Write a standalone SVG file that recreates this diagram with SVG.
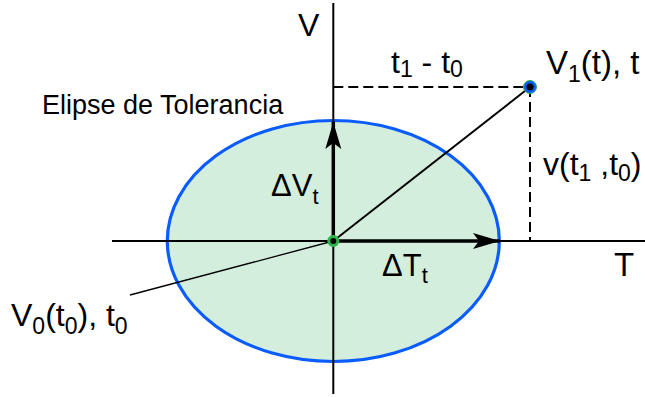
<svg xmlns="http://www.w3.org/2000/svg" width="645" height="397" viewBox="0 0 645 397">
<style>
text{font-family:"Liberation Sans",Arial,sans-serif;fill:#000;}
.lbl{font-size:32px;}
.ax{stroke:#000;stroke-width:2;fill:none;}
.thick{stroke:#000;stroke-width:3.5;fill:none;}
.dash{stroke:#000;stroke-width:2;stroke-dasharray:10 5;fill:none;}
</style>
<defs>
<marker id="ah" markerUnits="userSpaceOnUse" markerWidth="30" markerHeight="20" viewBox="-28 -9 30 18" refX="0" refY="0" orient="auto">
<path d="M0,0 L-27,-8 L-21,0 L-27,8 Z" fill="#000"/>
</marker>
</defs>
<g id="ellipse">
<ellipse cx="333.3" cy="241" rx="166" ry="120.5" fill="#d3eedc" stroke="#0a5cff" stroke-width="3.2"/>
</g>
<g id="connectors">
<line class="ax" x1="333.3" y1="3" x2="333.3" y2="394"/>
<line class="ax" x1="112" y1="241" x2="645" y2="241"/>
<line class="dash" x1="333.3" y1="87" x2="530" y2="87"/>
<line class="dash" x1="530" y1="87" x2="530" y2="241"/>
<line class="ax" x1="333.3" y1="241" x2="530" y2="87"/>
<line stroke="#000" stroke-width="1.3" x1="333.3" y1="241" x2="130" y2="295"/>
<line class="thick" x1="333.3" y1="241" x2="333.3" y2="122" marker-end="url(#ah)"/>
<line class="thick" x1="333.3" y1="241" x2="500" y2="241" marker-end="url(#ah)"/>
</g>
<g id="p0">
<circle cx="333.3" cy="241" r="4.5" fill="#000" stroke="#2db34a" stroke-width="3"/>
</g>
<g id="p1">
<circle cx="530" cy="87" r="6.5" fill="#0a5cff" stroke="#2db34a" stroke-width="1"/>
<circle cx="530" cy="87" r="3.5" fill="#000"/>
</g>
<g id="labels">
<text x="298" y="36" font-size="32">V</text>
<text x="614" y="276" font-size="33">T</text>
<text x="42" y="114" font-size="27">Elipse de Tolerancia</text>
<text class="lbl" x="391" y="73">t<tspan font-size="23" dy="4">1</tspan><tspan dy="-4"> - t</tspan><tspan font-size="23" dy="4">0</tspan></text>
<text x="546" y="74" font-size="33">V<tspan font-size="23" dy="8">1</tspan><tspan dy="-8">(t), t</tspan></text>
<text class="lbl" x="543" y="175">v(t<tspan font-size="23" dy="6">1</tspan><tspan dy="-6"> ,t</tspan><tspan font-size="23" dy="6">0</tspan><tspan dy="-6">)</tspan></text>
<text x="271" y="196" font-size="31">ΔV<tspan font-size="22" dy="8">t</tspan></text>
<text x="382" y="276" font-size="31">ΔT<tspan font-size="22" dy="7">t</tspan></text>
<text class="lbl" x="11" y="326">V<tspan font-size="23" dy="8">0</tspan><tspan dy="-8">(t</tspan><tspan font-size="23" dy="8">0</tspan><tspan dy="-8">), t</tspan><tspan font-size="23" dy="8">0</tspan></text>
</g>
</svg>
